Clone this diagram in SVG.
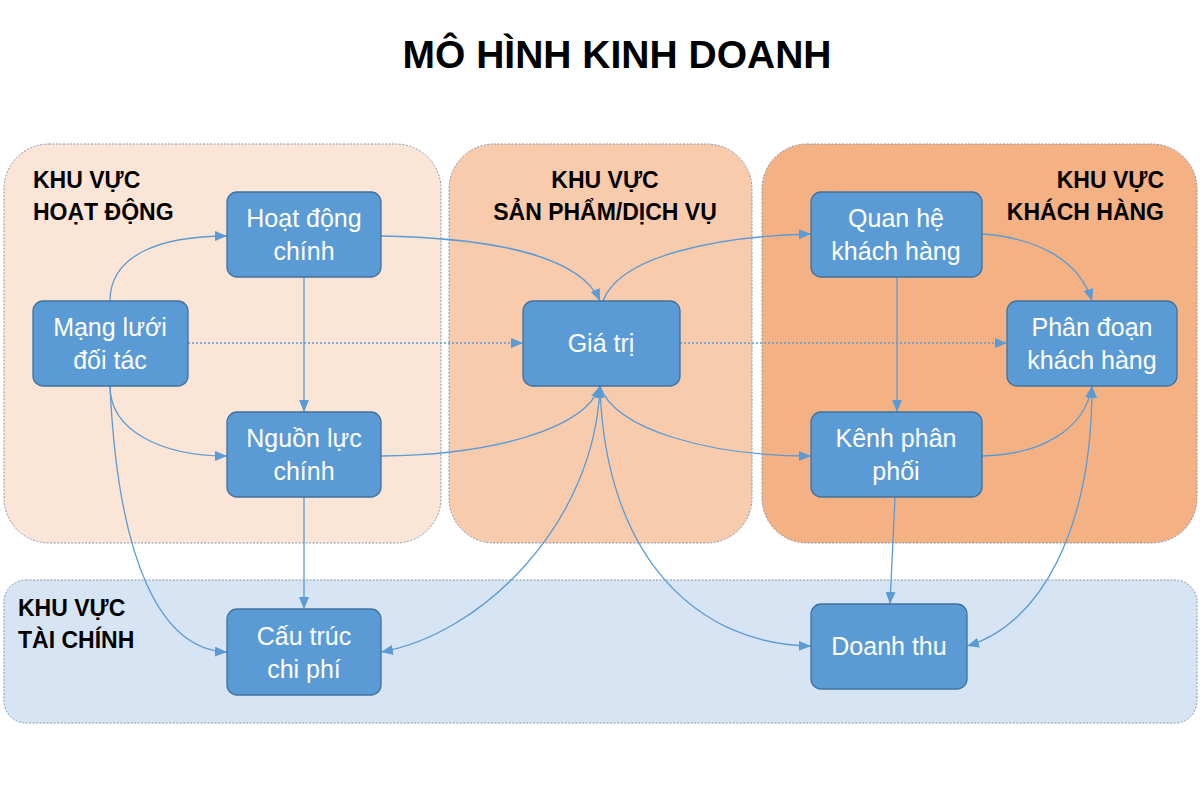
<svg xmlns="http://www.w3.org/2000/svg" width="1200" height="800" viewBox="0 0 1200 800">
  <defs>
    <style>
      .zone { stroke: #8497b0; stroke-width: 1; stroke-dasharray: 2 1.5; }
      .zlabel { font-family: "Liberation Sans", Arial, sans-serif; font-weight: bold; font-size: 23px; fill: #000; }
      .title { font-family: "Liberation Sans", Arial, sans-serif; font-weight: bold; font-size: 39px; fill: #000; }
      .box { fill: #5b9bd5; stroke: #41719c; stroke-width: 1.3; }
      .ntext { font-family: "Liberation Sans", Arial, sans-serif; font-size: 25px; fill: #fff; text-anchor: middle; }
      .conn { fill: none; stroke: #5b9bd5; stroke-width: 1.3; }
      .dot { stroke-dasharray: 2 2; }
    </style>
    <marker id="arr" viewBox="0 0 12 10" refX="12" refY="5" markerWidth="12" markerHeight="10" markerUnits="userSpaceOnUse" orient="auto">
      <path d="M0,0 L12,5 L0,10 Z" fill="#5b9bd5"/>
    </marker>
    <marker id="arrs" viewBox="0 0 12 10" refX="0" refY="5" markerWidth="12" markerHeight="10" markerUnits="userSpaceOnUse" orient="auto">
      <path d="M12,0 L0,5 L12,10 Z" fill="#5b9bd5"/>
    </marker>
  </defs>

  <rect width="1200" height="800" fill="#ffffff"/>

  <text class="title" x="617" y="68" text-anchor="middle">MÔ HÌNH KINH DOANH</text>

  <g id="zones">
    <g id="zone-hoat-dong">
      <rect class="zone" x="4" y="144" width="437" height="399" rx="45" fill="#fbe5d6"/>
      <text class="zlabel" x="33" y="188">KHU VỰC</text>
      <text class="zlabel" x="33" y="220">HOẠT ĐỘNG</text>
    </g>
    <g id="zone-san-pham">
      <rect class="zone" x="449" y="144" width="303" height="399" rx="45" fill="#f8cbad"/>
      <text class="zlabel" x="605" y="188" text-anchor="middle">KHU VỰC</text>
      <text class="zlabel" x="605" y="220" text-anchor="middle">SẢN PHẨM/DỊCH VỤ</text>
    </g>
    <g id="zone-khach-hang">
      <rect class="zone" x="762" y="144" width="435" height="399" rx="45" fill="#f4b183"/>
      <text class="zlabel" x="1164" y="188" text-anchor="end">KHU VỰC</text>
      <text class="zlabel" x="1164" y="220" text-anchor="end">KHÁCH HÀNG</text>
    </g>
    <g id="zone-tai-chinh">
      <rect class="zone" x="4" y="580" width="1193" height="143" rx="22" fill="#d6e4f3"/>
      <text class="zlabel" x="18" y="616">KHU VỰC</text>
      <text class="zlabel" x="18" y="648">TÀI CHÍNH</text>
    </g>
  </g>

  <g id="connectors">
    <path class="conn" d="M110,301 C110,255 160,236 227,236" marker-end="url(#arr)"/>
    <path class="conn" d="M110,386 C110,430 160,456 227,456" marker-end="url(#arr)"/>
    <path class="conn" d="M110,386 C118,560 160,650 227,652" marker-end="url(#arr)"/>
    <path class="conn dot" d="M188,343 L523,343" marker-end="url(#arr)"/>
    <path class="conn dot" d="M680,343 L1007,343" marker-end="url(#arr)"/>
    <path class="conn" d="M381,236 C490,238 580,255 600,301" marker-end="url(#arr)"/>
    <path class="conn" d="M603,301 C620,255 720,236 811,234" marker-end="url(#arr)"/>
    <path class="conn" d="M304,277 L304,412" marker-end="url(#arr)"/>
    <path class="conn" d="M381,456 C490,455 585,430 600,386" marker-end="url(#arr)"/>
    <path class="conn" d="M600,386 C615,430 710,456 811,456" marker-end="url(#arr)"/>
    <path class="conn" d="M304,497 L304,609" marker-end="url(#arr)"/>
    <path class="conn" d="M381,652 C480,635 595,525 600,386" marker-start="url(#arrs)" marker-end="url(#arr)"/>
    <path class="conn" d="M600,386 C605,560 700,645 811,646" marker-end="url(#arr)"/>
    <path class="conn" d="M897,277 L897,412" marker-end="url(#arr)"/>
    <path class="conn" d="M982,234 C1040,238 1080,262 1092,301" marker-end="url(#arr)"/>
    <path class="conn" d="M982,456 C1040,455 1085,430 1092,386" marker-end="url(#arr)"/>
    <path class="conn" d="M895,497 L890,604" marker-end="url(#arr)"/>
    <path class="conn" d="M967,646 C1040,625 1092,530 1092,386" marker-start="url(#arrs)" marker-end="url(#arr)"/>
  </g>

  <g id="node-hoat-dong-chinh">
    <rect class="box" x="227" y="192" width="154" height="85" rx="10"/>
    <text class="ntext" x="304" y="227">Hoạt động</text>
    <text class="ntext" x="304" y="260">chính</text>
  </g>
  <g id="node-mang-luoi">
    <rect class="box" x="33" y="301" width="155" height="85" rx="10"/>
    <text class="ntext" x="110" y="336">Mạng lưới</text>
    <text class="ntext" x="110" y="369">đối tác</text>
  </g>
  <g id="node-nguon-luc">
    <rect class="box" x="227" y="412" width="154" height="85" rx="10"/>
    <text class="ntext" x="304" y="447">Nguồn lực</text>
    <text class="ntext" x="304" y="480">chính</text>
  </g>
  <g id="node-gia-tri">
    <rect class="box" x="523" y="301" width="157" height="85" rx="10"/>
    <text class="ntext" x="601" y="352">Giá trị</text>
  </g>
  <g id="node-quan-he">
    <rect class="box" x="811" y="192" width="171" height="85" rx="10"/>
    <text class="ntext" x="896" y="227">Quan hệ</text>
    <text class="ntext" x="896" y="260">khách hàng</text>
  </g>
  <g id="node-phan-doan">
    <rect class="box" x="1007" y="301" width="170" height="85" rx="10"/>
    <text class="ntext" x="1092" y="336">Phân đoạn</text>
    <text class="ntext" x="1092" y="369">khách hàng</text>
  </g>
  <g id="node-kenh-phan-phoi">
    <rect class="box" x="811" y="412" width="171" height="85" rx="10"/>
    <text class="ntext" x="896" y="447">Kênh phân</text>
    <text class="ntext" x="896" y="480">phối</text>
  </g>
  <g id="node-cau-truc">
    <rect class="box" x="227" y="609" width="154" height="86" rx="10"/>
    <text class="ntext" x="304" y="645">Cấu trúc</text>
    <text class="ntext" x="304" y="678">chi phí</text>
  </g>
  <g id="node-doanh-thu">
    <rect class="box" x="811" y="604" width="156" height="85" rx="10"/>
    <text class="ntext" x="889" y="655">Doanh thu</text>
  </g>
</svg>
